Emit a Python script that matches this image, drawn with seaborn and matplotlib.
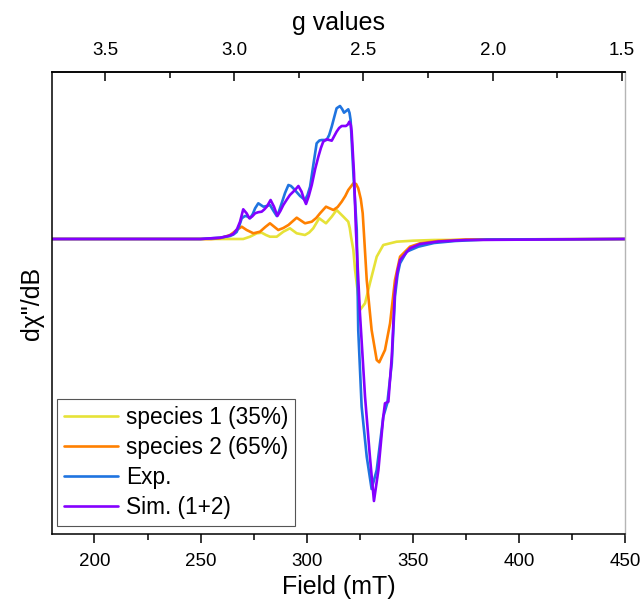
import numpy as np
import pandas as pd
import matplotlib
matplotlib.use('Agg')
import matplotlib.pyplot as plt
import seaborn as sns
from matplotlib.ticker import MultipleLocator, FormatStrFormatter

# values (field in mT, signal in arbitrary units)
exp_field = [180, 250, 259.2, 263.9, 265.5, 267.0, 268.2, 269.4, 270.9, 272.2, 273.3,
             274.6, 275.7, 277.2, 278.4, 279.6, 281.2, 282.7, 284.4, 285.9, 287.0,
             288.2, 289.8, 291.4, 292.6, 293.7, 296.9, 299.2, 300.4, 301.6, 303.2,
             304.7, 306.0, 307.1, 309.4, 310.6, 311.8, 313.0, 314.1, 315.7, 316.7,
             317.6, 318.6, 319.6, 320.2, 320.7, 322.0, 323.6, 324.3,
             325.9, 328.3, 330.6, 333.0, 336.1, 338.0, 340.1, 341.6, 342.8, 344.0,
             347.1, 352.6, 360, 370, 385, 450]
exp_signal = [0, 0, 1.3, 3, 4.5, 7, 13, 20.7, 23, 22.5, 20.7,
              25, 30.7, 35.7, 34, 32.3, 33, 34, 28, 23, 28,
              35.7, 46, 54, 53, 50.7, 43, 39, 44, 52.3, 75,
              95.7, 98.5, 99, 99, 104, 112.3, 122, 130.7, 133, 130,
              126.3, 128, 129.7, 126, 119, 66, 9, -91,
              -167.7, -217.7, -250, -231, -177.7, -164, -124.3, -57.7, -36, -24.3,
              -12.7, -7.7, -4, -2, -0.5, 0]

sim_field = [180, 250, 259.2, 263.0, 265.4, 267.2, 268.6, 270.1, 271.7, 273.0, 274.3,
             275.7, 277.2, 278.8, 280.0, 281.2, 283.0, 284.6, 286.2, 287.6, 289.0,
             290.5, 292.1, 294.5, 296.1, 297.6, 298.7, 299.7, 301.0, 302.4, 304.0,
             305.5, 306.7, 307.8, 309.4, 311.8, 313.0, 314.1, 315.3, 316.5, 318.5,
             319.4, 320.1, 320.8, 321.2, 322.3,
             323.2, 325.1, 327.5, 329.8, 331.7, 333.8, 336.1, 336.9, 338.5, 340.1,
             341.6, 342.8, 344.0, 348.7, 353.4, 362, 375, 450]
sim_signal = [0, 0, 1.3, 3, 5, 10, 17.3, 29.7, 25.7, 20.7, 22.5,
              25.7, 26.8, 27.3, 29.5, 32.3, 39, 32.3, 23, 28, 34,
              39, 44, 49, 53, 47.3, 40, 35, 43, 54, 70,
              82.3, 91, 97.3, 99.7, 98.3, 103, 107.3, 111, 113, 113,
              114.5, 117.3, 114, 107.3, 65.7,
              9, -74.3, -157.7, -217.7, -262, -231, -177.7, -164.3, -162.7, -117.7,
              -51, -32, -21, -9.3, -5, -2.5, -1, 0]

sp2_field = [180, 255, 259.2, 263.9, 265.5, 267.0, 269.4, 271.7, 274.9, 278.0, 280.5,
             282.7, 286.6, 289.0, 291.4, 295.3, 299.2, 302.4, 304.5, 306.3, 309.1,
             312.6, 314.6, 316.5, 318.2, 319.6, 322.0, 323.3, 324.3, 325.5, 326.4,
             327.0, 328.3, 330.6, 333.0, 334.2, 336.9, 339.3, 341.6, 344.0, 348.7,
             353.4, 362, 375, 450]
sp2_signal = [0, 0, 0.7, 4, 6.5, 9, 12.3, 9, 5.7, 7.3, 12,
              15.7, 9, 11, 14, 21.3, 15.7, 17.3, 21, 25.7, 32.3,
              29, 32, 37.3, 43, 49, 55.7, 55, 50.7, 40, 25.7,
              5, -41, -91, -121, -123.3, -111, -84.3, -41, -17.7, -7.7,
              -4.3, -2, -0.5, 0]

sp1_field = [180, 270.1, 273.3, 276.5, 278.8, 280.8, 282.7, 285.9, 289.0, 292.1, 295.3,
             299.2, 301.2, 303.1, 305.9, 309.1, 311.8, 314.1, 317.3, 319.6, 320.3,
             320.9, 322.0, 322.8, 325.1, 327.5, 329.8, 333.0, 336.1, 342.4, 350.1,
             360, 450]
sp1_signal = [0, 0, 2.3, 5.7, 6.3, 4, 2.3, 2.3, 7.3, 10.7, 5.7,
              4, 6.5, 10.7, 20.7, 15.7, 22.3, 29, 22.3, 17.3, 11,
              2.3, -11, -31, -71, -64.3, -44.3, -17.7, -6, -2.7, -1.7,
              -1, 0]

series_names = ['species 1 (35%)', 'species 2 (65%)', 'Exp.', 'Sim. (1+2)']
series_colors = ['#E6E238', '#FF8000', '#1F74E0', '#8400FF']

frames = []
for name, fx, fy in zip(series_names,
                        [sp1_field, sp2_field, exp_field, sim_field],
                        [sp1_signal, sp2_signal, exp_signal, sim_signal]):
    frames.append(pd.DataFrame({'field': fx, 'signal': fy, 'series': name}))
df = pd.concat(frames, ignore_index=True)

sns.set_style('white')
plt.rcParams['font.family'] = ['Liberation Sans', 'DejaVu Sans']
plt.rcParams['text.color'] = 'black'
plt.rcParams['axes.labelcolor'] = 'black'
plt.rcParams['xtick.color'] = 'black'
plt.rcParams['ytick.color'] = 'black'

fig = plt.figure(figsize=(6.43, 6.06), dpi=100)
ax = fig.add_axes([0.0809, 0.1188, 0.8911, 0.7624])

sns.lineplot(data=df, x='field', y='signal', hue='series', hue_order=series_names,
             palette=series_colors, estimator=None, sort=False, linewidth=1.9, ax=ax)

ax.set_xlim(180, 450)
ax.set_ylim(-295, 167)
ax.set_yticks([])
ax.xaxis.set_major_locator(MultipleLocator(50))
ax.xaxis.set_minor_locator(MultipleLocator(25))
ax.tick_params(axis='x', which='major', direction='out', length=6.5, width=1.1,
               labelsize=13.5, pad=7, bottom=True)
ax.tick_params(axis='x', which='minor', direction='out', length=4, width=1.1, bottom=True)
ax.set_xlabel('Field (mT)', fontsize=18, labelpad=4)
ax.set_ylabel('d\u03c7"/dB', fontsize=18, labelpad=6)

for side in ['left', 'bottom', 'top']:
    ax.spines[side].set_color('black')
    ax.spines[side].set_linewidth(1.1)
ax.spines['right'].set_color('#b5b5b5')
ax.spines['right'].set_linewidth(1.0)

ax2 = ax.twiny()
ax2.set_xlim(3.705, 1.488)
ax2.xaxis.set_major_locator(MultipleLocator(0.5))
ax2.xaxis.set_minor_locator(MultipleLocator(0.25))
ax2.xaxis.set_major_formatter(FormatStrFormatter('%.1f'))
ax2.tick_params(axis='x', which='major', direction='in', length=6.5, width=1.1,
                labelsize=13.5, pad=9, top=True)
ax2.tick_params(axis='x', which='minor', direction='in', length=4, width=1.1, top=True)
ax2.set_xlabel('g values', fontsize=18, labelpad=9)
for side in ['left', 'bottom', 'right']:
    ax2.spines[side].set_visible(False)
ax2.spines['top'].set_color('black')
ax2.spines['top'].set_linewidth(1.1)

ax.legend(loc='lower left', bbox_to_anchor=(0.0087, 0.017), borderaxespad=0,
          frameon=True, fancybox=False, edgecolor='#555555', framealpha=1,
          fontsize=16.3, handlelength=2.4, handletextpad=0.35, labelspacing=0.32,
          borderpad=0.3)
ax.get_legend().get_frame().set_linewidth(0.8)

fig.savefig('out.png', dpi=100)
